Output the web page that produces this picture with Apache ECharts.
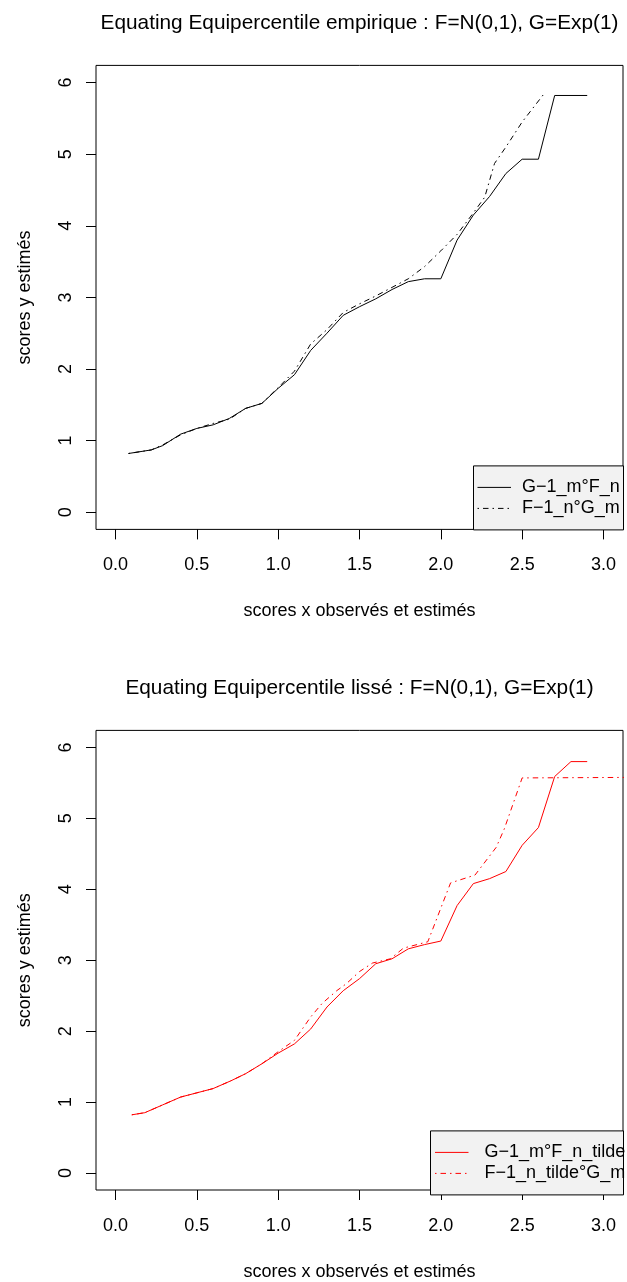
<!DOCTYPE html>
<html>
<head>
<meta charset="utf-8">
<script src="https://cdn.jsdelivr.net/npm/echarts@6/dist/echarts.min.js"></script>
<style>
html,body{margin:0;padding:0;background:#fff;}
#c{width:627px;height:1282px;}
</style>
</head>
<body>
<div id="c"></div>
<script>
// ---- data ----
const X_TICKS = [0, 0.5, 1, 1.5, 2, 2.5, 3];
const Y_TICKS = [0, 1, 2, 3, 4, 5, 6];

const TITLE_EMP = "Equating Equipercentile empirique : F=N(0,1), G=Exp(1)";
const TITLE_LIS = "Equating Equipercentile lissé : F=N(0,1), G=Exp(1)";
const X_NAME = "scores x observés et estimés";
const Y_NAME = "scores y estimés";

const NAME_EMP_G = "G\u22121_m°F_n";
const NAME_EMP_F = "F\u22121_n°G_m";
const NAME_LIS_G = "G\u22121_m°F_n_tilde";
const NAME_LIS_F = "F\u22121_n_tilde°G_m";

// empirical equating : G^-1_m o F_n (solid)
const empGx = [0.08, 0.22, 0.29, 0.4, 0.5, 0.6, 0.7, 0.8, 0.9, 1.0, 1.1, 1.2, 1.3, 1.4, 1.5, 1.6, 1.7, 1.8, 1.9, 2.0, 2.1, 2.2, 2.3, 2.4, 2.5, 2.6, 2.7, 2.9];
const empGy = [0.82, 0.87, 0.93, 1.09, 1.17, 1.22, 1.31, 1.45, 1.52, 1.73, 1.92, 2.26, 2.5, 2.75, 2.87, 2.98, 3.11, 3.22, 3.26, 3.26, 3.8, 4.15, 4.41, 4.73, 4.93, 4.93, 5.82, 5.82];
// empirical equating : F^-1_n o G_m (dot-dash)
const empFx = [0.08, 0.22, 0.29, 0.4, 0.5, 0.6, 0.7, 0.8, 0.9, 1.0, 1.1, 1.2, 1.3, 1.4, 1.5, 1.6, 1.7, 1.8, 1.9, 2.0, 2.1, 2.2, 2.27, 2.33, 2.4, 2.5, 2.63];
const empFy = [0.82, 0.87, 0.94, 1.08, 1.17, 1.24, 1.3, 1.45, 1.52, 1.74, 1.97, 2.35, 2.55, 2.79, 2.91, 3.02, 3.14, 3.26, 3.43, 3.65, 3.88, 4.18, 4.4, 4.87, 5.1, 5.45, 5.83];

// smoothed equating : G^-1_m o F_n_tilde (solid red)
const lisGx = [0.1, 0.18, 0.29, 0.4, 0.5, 0.6, 0.71, 0.8, 0.9, 1.0, 1.1, 1.2, 1.3, 1.4, 1.5, 1.6, 1.7, 1.8, 1.9, 2.0, 2.1, 2.2, 2.3, 2.4, 2.5, 2.6, 2.7, 2.8, 2.9];
const lisGy = [0.82, 0.85, 0.96, 1.07, 1.13, 1.19, 1.3, 1.4, 1.54, 1.69, 1.82, 2.03, 2.34, 2.57, 2.74, 2.95, 3.02, 3.16, 3.22, 3.27, 3.77, 4.08, 4.15, 4.25, 4.62, 4.87, 5.59, 5.8, 5.8];
// smoothed equating : F^-1_n_tilde o G_m (dot-dash red)
const lisFx = [0.1, 0.18, 0.29, 0.4, 0.5, 0.6, 0.71, 0.8, 0.9, 1.0, 1.1, 1.2, 1.27, 1.36, 1.42, 1.5, 1.58, 1.69, 1.77, 1.92, 2.06, 2.21, 2.34, 2.39, 2.5, 3.4];
const lisFy = [0.82, 0.85, 0.96, 1.07, 1.13, 1.19, 1.3, 1.4, 1.54, 1.71, 1.87, 2.2, 2.39, 2.57, 2.67, 2.84, 2.96, 3.02, 3.17, 3.26, 4.09, 4.2, 4.59, 4.85, 5.57, 5.58];

// ---- layout ----
const FONT = "'Liberation Sans', Arial, Helvetica, sans-serif";
const X_MIN = -0.12, X_MAX = 3.12, Y_MIN = -0.24, Y_MAX = 6.24;
const GRID_LEFT = 96, GRID_W = 527;
const GRID_H = 464;
const TOPS = [65.4, 730.4];
const DASH = [1.5, 4, 5.5, 4];

function pairs(xs, ys) { return xs.map((v, i) => [v, ys[i]]); }

const grids = [], xAxes = [], yAxes = [], titles = [], legends = [], series = [], graphics = [];
const panels = [
  { title: TITLE_EMP, color: '#000000',
    s: [[NAME_EMP_G, empGx, empGy, 'solid'], [NAME_EMP_F, empFx, empFy, DASH]],
    legLeft: 473, legPadL: 4, legTextPad: 6 },
  { title: TITLE_LIS, color: '#ff0000',
    s: [[NAME_LIS_G, lisGx, lisGy, 'solid'], [NAME_LIS_F, lisFx, lisFy, DASH]],
    legLeft: 430, legPadL: 4.5, legTextPad: 11 }
];

panels.forEach((p, k) => {
  const top = TOPS[k];
  grids.push({ left: GRID_LEFT, top: top, width: GRID_W, height: GRID_H,
    show: true, borderColor: '#000', borderWidth: 1, backgroundColor: 'transparent', containLabel: false });
  xAxes.push({ type: 'value', gridIndex: k, min: X_MIN, max: X_MAX, position: 'bottom',
    name: X_NAME, nameLocation: 'middle', nameGap: 73,
    nameTextStyle: { fontFamily: FONT, fontSize: 18, color: '#000' },
    axisLine: { show: false, onZero: false },
    axisTick: { show: true, inside: false, length: 10, customValues: X_TICKS, lineStyle: { color: '#000', width: 1 } },
    axisLabel: { show: true, customValues: X_TICKS, margin: 27, fontFamily: FONT, fontSize: 18, color: '#000',
      formatter: v => Number(v).toFixed(1) },
    splitLine: { show: false } });
  yAxes.push({ type: 'value', gridIndex: k, min: Y_MIN, max: Y_MAX, position: 'left',
    name: Y_NAME, nameLocation: 'middle', nameGap: 62,
    nameTextStyle: { fontFamily: FONT, fontSize: 18, color: '#000' },
    axisLine: { show: false, onZero: false },
    axisTick: { show: true, inside: false, length: 10, customValues: Y_TICKS, lineStyle: { color: '#000', width: 1 } },
    axisLabel: { show: true, customValues: Y_TICKS, rotate: 90, margin: 21, fontFamily: FONT, fontSize: 18, color: '#000',
      formatter: v => String(Math.round(v)) },
    splitLine: { show: false } });
  titles.push({ text: p.title, left: GRID_LEFT + GRID_W / 2, top: top - 52.5, textAlign: 'center', padding: 0,
    textStyle: { fontFamily: FONT, fontSize: 20.8, fontWeight: 'normal', color: '#000' } });
  // legend box (R style, touching bottom-right of the plot)
  const legTop = top + GRID_H - 64;
  graphics.push({ type: 'rect', z: 90, silent: true,
    shape: { x: p.legLeft + 0.5, y: legTop + 0.5, width: GRID_LEFT + GRID_W - p.legLeft, height: 64 },
    style: { fill: '#f2f2f2', stroke: '#000', lineWidth: 1 } });
  legends.push({ show: true, orient: 'vertical', left: p.legLeft, top: legTop, z: 100,
    padding: [13, 0, 12, p.legPadL], itemGap: 3, itemWidth: 33.5, itemHeight: 18,
    selectedMode: false, backgroundColor: 'transparent',
    itemStyle: { color: 'transparent', borderColor: 'transparent', borderWidth: 0, opacity: 0 },
    textStyle: { fontFamily: FONT, fontSize: 18, color: '#000', padding: [0, 0, 0, p.legTextPad] },
    data: p.s.map(s => ({ name: s[0], lineStyle: { color: p.color, type: s[3], width: 1 } })) });
  p.s.forEach(s => {
    series.push({ type: 'line', name: s[0], xAxisIndex: k, yAxisIndex: k,
      data: pairs(s[1], s[2]), showSymbol: false, symbol: 'none', clip: true,
      lineStyle: { color: p.color, width: 1, type: s[3] },
      itemStyle: { color: p.color },
      emphasis: { disabled: true }, animation: false });
  });
});

const chart = echarts.init(document.getElementById('c'), null, { renderer: 'canvas', width: 627, height: 1282 });
chart.setOption({
  backgroundColor: '#ffffff',
  animation: false,
  title: titles,
  grid: grids,
  xAxis: xAxes,
  yAxis: yAxes,
  legend: legends,
  graphic: graphics,
  series: series
});
</script>
</body>
</html>
